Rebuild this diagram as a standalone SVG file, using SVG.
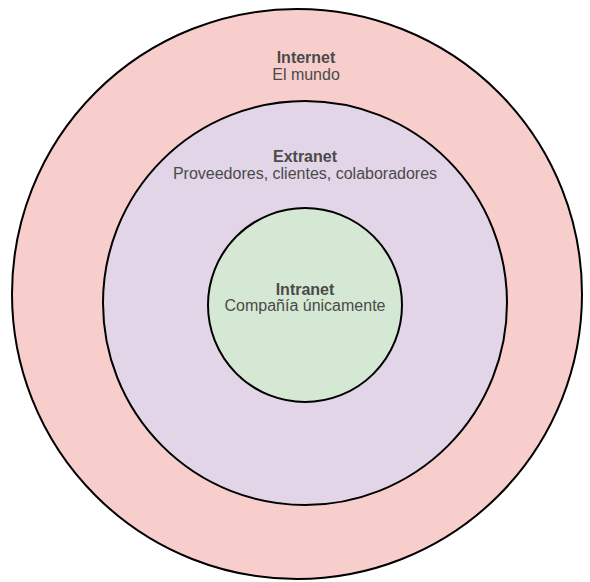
<svg xmlns="http://www.w3.org/2000/svg" width="590" height="582" viewBox="0 0 590 582">
<style>
.ring{stroke:#000;stroke-width:2}
.t{font-family:"Liberation Sans",Arial,sans-serif;font-size:16px;fill:#4a4a4a;text-anchor:middle}
.b{font-weight:bold}
</style>
<rect width="590" height="582" fill="#ffffff"/>
<g id="internet">
<circle class="ring" cx="297" cy="294" r="285" fill="#f8cecc"/>
<text class="t b" x="306" y="63">Internet</text>
<text class="t" x="306" y="80">El mundo</text>
</g>
<g id="extranet">
<circle class="ring" cx="305" cy="303" r="202" fill="#e1d5e7"/>
<text class="t b" x="305" y="162">Extranet</text>
<text class="t" x="305" y="179">Proveedores, clientes, colaboradores</text>
</g>
<g id="intranet">
<circle class="ring" cx="305" cy="305" r="97" fill="#d5e8d4"/>
<text class="t b" x="305" y="295">Intranet</text>
<text class="t" x="305" y="311">Compañía únicamente</text>
</g>
<g id="connectors"></g>
</svg>
